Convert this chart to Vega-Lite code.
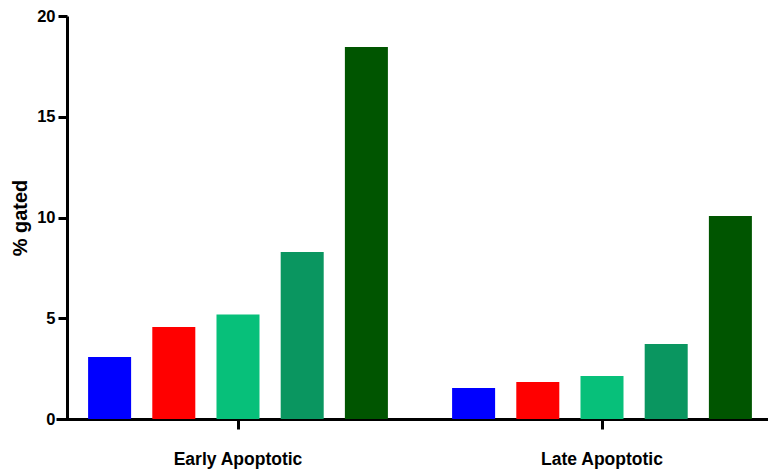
{
  "$schema": "https://vega.github.io/schema/vega-lite/v6.json",
  "width": 701,
  "height": 403,
  "autosize": "none",
  "padding": {"left": 67, "top": 16, "right": 0, "bottom": 54},
  "background": "white",
  "config": {"view": {"stroke": null}, "font": "Liberation Sans"},
  "data": {
    "values": [
      {"group": "Early Apoptotic", "series": "A", "value": 3.08},
      {"group": "Early Apoptotic", "series": "B", "value": 4.57},
      {"group": "Early Apoptotic", "series": "C", "value": 5.18},
      {"group": "Early Apoptotic", "series": "D", "value": 8.29},
      {"group": "Early Apoptotic", "series": "E", "value": 18.46},
      {"group": "Late Apoptotic", "series": "A", "value": 1.54},
      {"group": "Late Apoptotic", "series": "B", "value": 1.84},
      {"group": "Late Apoptotic", "series": "C", "value": 2.13},
      {"group": "Late Apoptotic", "series": "D", "value": 3.72},
      {"group": "Late Apoptotic", "series": "E", "value": 10.07}
    ]
  },
  "mark": {"type": "bar"},
  "encoding": {
    "x": {
      "field": "group", "type": "nominal",
      "scale": {"range": [-11, 717], "paddingInner": 0, "paddingOuter": 0},
      "axis": {
        "title": null, "labelAngle": 0, "labelFontSize": 17.5, "labelFontWeight": "bold",
        "labelColor": "black", "labelPadding": 21,
        "domainColor": "black", "domainWidth": 3, "tickColor": "black", "tickWidth": 3, "tickSize": 10
      }
    },
    "xOffset": {
      "field": "series", "type": "nominal",
      "scale": {"paddingInner": 0.33, "paddingOuter": 0.5}
    },
    "y": {
      "field": "value", "type": "quantitative",
      "scale": {"domain": [0, 20], "nice": false},
      "axis": {
        "title": "% gated", "values": [0, 5, 10, 15, 20], "grid": false,
        "titleFontSize": 20, "titleFontWeight": "bold", "titleColor": "black", "titlePadding": 6,
        "labelFontSize": 16.5, "labelFontWeight": "bold", "labelColor": "black", "labelPadding": 3,
        "domainColor": "black", "domainWidth": 3, "tickColor": "black", "tickWidth": 3, "tickSize": 9
      }
    },
    "color": {
      "field": "series", "type": "nominal", "legend": null,
      "scale": {"domain": ["A", "B", "C", "D", "E"], "range": ["#0000FF", "#FF0000", "#07C07A", "#0A9660", "#005500"]}
    }
  }
}
